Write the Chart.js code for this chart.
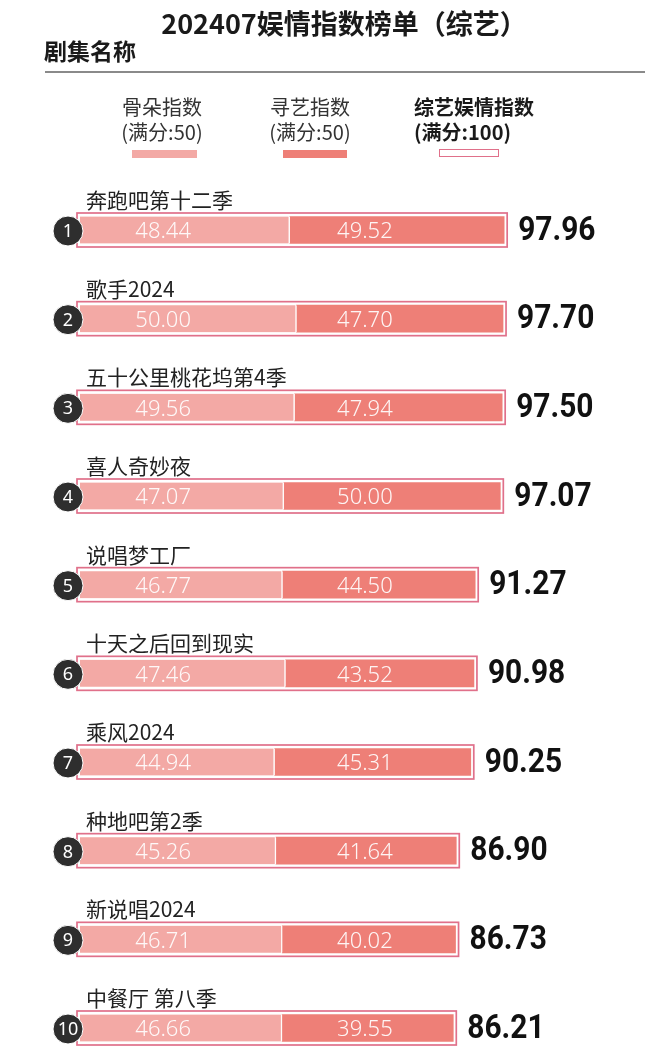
<!DOCTYPE html>
<html>
<head>
<meta charset="utf-8">
<script src="https://cdn.jsdelivr.net/npm/chart.js@4.4.1/dist/chart.umd.min.js"></script>
<style>
  html, body { margin: 0; padding: 0; background: #fff; }
  body { width: 660px; height: 1062px; position: relative; overflow: hidden;
         font-family: "Noto Sans CJK SC", "Noto Sans", sans-serif; color: #222; }
  .abs { position: absolute; white-space: nowrap; }
  #title { left: 14px; width: 660px; top: 6px; text-align: center; font-size: 27px; font-weight: 700; line-height: 34px; color: #1a1a1a; }
  #subhead { left: 44px; top: 35px; font-size: 23px; font-weight: 700; line-height: 30px; color: #1a1a1a; }
  #rule { left: 45px; top: 71px; width: 600px; height: 2px; background: #8a8a8a; }
  .lg { font-size: 20px; line-height: 25px; color: #333; text-align: center; }
  .lgb { font-size: 20px; line-height: 25px; color: #1a1a1a; font-weight: 700; }
  .sw { position: absolute; height: 8px; }
  canvas { position: absolute; left: 0; top: 0; }
</style>
</head>
<body>
<canvas id="c" width="660" height="1062"></canvas>
<div class="abs" id="title">202407娱情指数榜单（综艺）</div>
<div class="abs" id="subhead">剧集名称</div>
<div class="abs" id="rule"></div>
<div class="abs lg" style="left:112px;width:100px;top:94px;">骨朵指数<br>(满分:50)</div>
<div class="sw" style="left:132px;top:150px;width:65px;background:#f3a9a5;"></div>
<div class="abs lg" style="left:260px;width:100px;top:94px;">寻艺指数<br>(满分:50)</div>
<div class="sw" style="left:283px;top:150px;width:64px;background:#ee7f77;"></div>
<div class="abs lgb" style="left:414px;top:94px;">综艺娱情指数<br>(满分:100)</div>
<div class="sw" style="left:439px;top:149px;width:58px;height:6px;border:1.5px solid #e0708a;background:#fff;"></div>
<script>
// ---- data ----
const categories = ['奔跑吧第十二季', '歌手2024', '五十公里桃花坞第4季', '喜人奇妙夜', '说唱梦工厂',
                    '十天之后回到现实', '乘风2024', '种地吧第2季', '新说唱2024', '中餐厅 第八季'];
const ranks = ['1', '2', '3', '4', '5', '6', '7', '8', '9', '10'];
const guduoIndex = [48.44, 50.00, 49.56, 47.07, 46.77, 47.46, 44.94, 45.26, 46.71, 46.66];
const xunyiIndex = [49.52, 47.70, 47.94, 50.00, 44.50, 43.52, 45.31, 41.64, 40.02, 39.55];
const totalIndex = [97.96, 97.70, 97.50, 97.07, 91.27, 90.98, 90.25, 86.90, 86.73, 86.21];
const seriesNames = ['骨朵指数', '寻艺指数', '综艺娱情指数'];

const COL1 = '#f3a9a5', COL2 = '#ee7f77', OUTLINE = '#e0708a';

const decorPlugin = {
  id: 'decor',
  afterDatasetsDraw(chart) {
    const ctx = chart.ctx;
    const xs = chart.scales.x, ys = chart.scales.y;
    const x0 = xs.getPixelForValue(0);
    const lab1x = xs.getPixelForValue(19.2), lab2x = xs.getPixelForValue(65.8);
    ctx.save();
    categories.forEach((name, i) => {
      const y = ys.getPixelForValue(i);
      const xt = xs.getPixelForValue(totalIndex[i]);
      // outline of total bar
      ctx.strokeStyle = OUTLINE;
      ctx.lineWidth = 1.7;
      ctx.strokeRect(x0 - 3, y - 17, xt - x0 + 6, 34);
      // segment values
      ctx.fillStyle = 'rgba(255,255,255,0.92)';
      ctx.font = '300 22px "Noto Sans", "Open Sans", sans-serif';
      ctx.textAlign = 'center';
      ctx.textBaseline = 'middle';
      ctx.fillText(guduoIndex[i].toFixed(2), lab1x, y + 2);
      ctx.fillText(xunyiIndex[i].toFixed(2), lab2x, y + 2);
      // category name
      ctx.fillStyle = '#222';
      ctx.font = '400 21px "Noto Sans CJK SC", sans-serif';
      ctx.textAlign = 'left';
      ctx.textBaseline = 'middle';
      ctx.fillText(name, x0 + 6, y - 30);
      // rank circle
      ctx.beginPath();
      ctx.arc(x0 - 12, y + 1, 15, 0, Math.PI * 2);
      ctx.fillStyle = '#2e2e2e';
      ctx.fill();
      ctx.strokeStyle = '#fff';
      ctx.lineWidth = 1;
      ctx.stroke();
      ctx.fillStyle = '#fff';
      ctx.font = '400 18px "Noto Sans", sans-serif';
      ctx.textAlign = 'center';
      ctx.fillText(ranks[i], x0 - 12, y + 2);
      // total value
      ctx.save();
      ctx.translate(xt + 14, y + 1);
      ctx.scale(0.88, 1);
      ctx.fillStyle = '#111';
      ctx.font = '700 34px Roboto, "Noto Sans", sans-serif';
      ctx.textAlign = 'left';
      ctx.textBaseline = 'middle';
      ctx.fillText(totalIndex[i].toFixed(2), 0, 0);
      ctx.restore();
    });
    ctx.restore();
  }
};

new Chart(document.getElementById('c'), {
  type: 'bar',
  data: {
    labels: categories,
    datasets: [
      { label: seriesNames[0], data: guduoIndex, backgroundColor: COL1, borderColor: 'rgba(255,255,255,0.95)',
        borderWidth: { left: 0, top: 0, bottom: 0, right: 1.5 }, borderSkipped: false, stack: 'parts',
        barThickness: 27, grouped: false, clip: false },
      { label: seriesNames[1], data: xunyiIndex, backgroundColor: COL2, borderWidth: 0,
        stack: 'parts', barThickness: 27, grouped: false, clip: false },
      { label: seriesNames[2], data: totalIndex, backgroundColor: 'rgba(0,0,0,0)', borderWidth: 0,
        stack: 'total', barThickness: 34, grouped: false, clip: false }
    ]
  },
  options: {
    indexAxis: 'y',
    responsive: false,
    animation: false,
    layout: { padding: { left: 80, right: 147, top: 230, bottom: 34 } },
    scales: {
      x: { stacked: true, min: 0, max: 100, display: false },
      y: { stacked: true, offset: false, display: false }
    },
    plugins: { legend: { display: false }, tooltip: { enabled: false } }
  },
  plugins: [decorPlugin]
});
</script>
</body>
</html>
